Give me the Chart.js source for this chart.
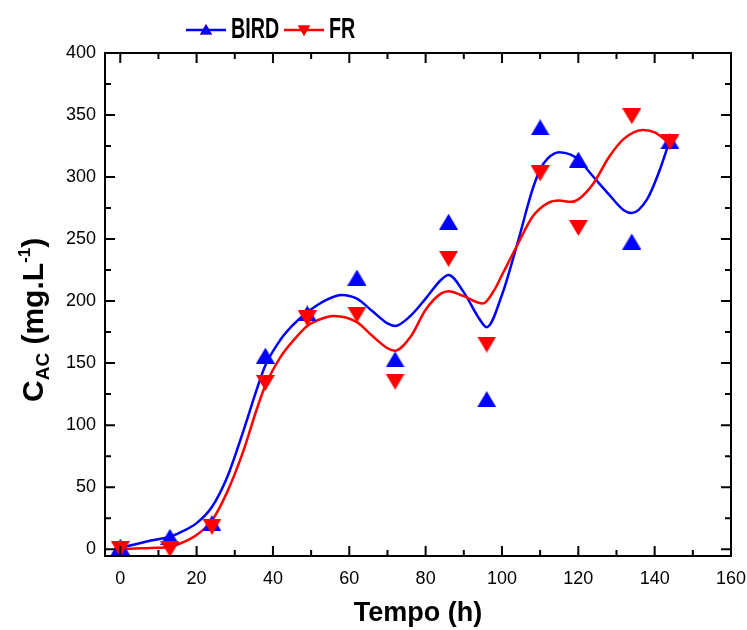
<!DOCTYPE html>
<html>
<head>
<meta charset="utf-8">
<script src="https://cdn.jsdelivr.net/npm/chart.js@4.4.1/dist/chart.umd.min.js"></script>
<style>
  html, body { margin: 0; padding: 0; background: #fff; }
  #grafico { display: block; }
</style>
</head>
<body>
<canvas id="grafico" width="747" height="630"></canvas>
<script>
// pontos experimentais
const tempo = [0, 13, 24, 38, 49, 62, 72, 86, 96, 110, 120, 134, 144];
const bird = [2, 10, 21, 156, 190, 219, 153, 264, 121, 340, 314, 248, 329];
const fr = [0, 0, 18, 134, 186, 189, 135, 234, 165, 303, 259, 349, 328];

// curvas ajustadas
const curvaBirdX = [0, 4, 8, 13, 16, 20, 24, 28, 32, 36, 38, 42, 45, 49, 54, 58, 62, 66, 70, 72, 76, 80, 84, 86, 90, 94, 96, 100, 104, 108, 110, 112, 115, 118, 120, 124, 128, 132, 134, 138, 141, 144];
const curvaBirdY = [1, 4, 7, 10, 14, 21, 34, 58, 93, 131, 148, 169, 180, 191, 201, 205, 202, 192, 182, 180, 188, 202, 217, 221, 207, 186, 179, 205, 246, 290, 306, 315, 320, 318, 314, 300, 286, 273, 271, 282, 303, 330];
const curvaFrX = [0, 4, 8, 13, 16, 20, 24, 28, 32, 36, 38, 42, 45, 49, 54, 56, 62, 66, 70, 72, 76, 80, 84, 86, 90, 95, 98, 100, 104, 108, 112, 115, 118, 120, 124, 128, 132, 137, 140, 144];
const curvaFrY = [0, 0.5, 1, 2, 5, 11.5, 23, 46, 77, 115, 132, 155, 167, 180, 187, 188, 183, 172, 162, 160, 171, 193, 206, 208, 204, 198, 209, 221, 245, 268, 279, 281, 280, 282, 295, 316, 331, 338, 336, 327];

const ticksX = [0, 20, 40, 60, 80, 100, 120, 140, 160];
const ticksY = [0, 50, 100, 150, 200, 250, 300, 350, 400];

const fonte = "Arial, 'Liberation Sans', sans-serif";

function pares(xs, ys) {
  return xs.map((v, i) => ({ x: v, y: ys[i] }));
}

// triangulo centrado na caixa (igual ao simbolo do Origin)
function triangulo(cor, w, h, paraBaixo) {
  const c = document.createElement('canvas');
  c.width = Math.ceil(w);
  c.height = Math.ceil(h);
  const g = c.getContext('2d');
  g.fillStyle = cor;
  g.beginPath();
  if (paraBaixo) {
    g.moveTo(0, 0); g.lineTo(w, 0); g.lineTo(w / 2, h);
  } else {
    g.moveTo(w / 2, 0); g.lineTo(w, h); g.lineTo(0, h);
  }
  g.closePath();
  g.fill();
  return c;
}

const marcaBird = triangulo('#0000ff', 19, 16, false);
const marcaFr = triangulo('#ff0000', 19, 16, true);

// moldura com ticks para dentro
const moldura = {
  id: 'moldura',
  afterDatasetsDraw(chart) {
    const { ctx, chartArea: a, scales } = chart;
    const x = scales.x, y = scales.y;
    ctx.save();
    ctx.strokeStyle = '#000';
    ctx.lineWidth = 2;
    ctx.beginPath();
    for (let i = 0; i < ticksX.length; i++) {
      const v = ticksX[i];
      const px = x.getPixelForValue(v);
      ctx.moveTo(px, a.bottom); ctx.lineTo(px, a.bottom - 10);
      ctx.moveTo(px, a.top); ctx.lineTo(px, a.top + 10);
      if (i < ticksX.length - 1) {
        const pm = x.getPixelForValue((v + ticksX[i + 1]) / 2);
        ctx.moveTo(pm, a.bottom); ctx.lineTo(pm, a.bottom - 6);
        ctx.moveTo(pm, a.top); ctx.lineTo(pm, a.top + 6);
      }
    }
    for (let i = 0; i < ticksY.length; i++) {
      const v = ticksY[i];
      const py = y.getPixelForValue(v);
      ctx.moveTo(a.left, py); ctx.lineTo(a.left + 10, py);
      ctx.moveTo(a.right, py); ctx.lineTo(a.right - 10, py);
      if (i < ticksY.length - 1) {
        const pm = y.getPixelForValue((v + ticksY[i + 1]) / 2);
        ctx.moveTo(a.left, pm); ctx.lineTo(a.left + 6, pm);
        ctx.moveTo(a.right, pm); ctx.lineTo(a.right - 6, pm);
      }
    }
    ctx.stroke();
    ctx.strokeRect(a.left, a.top, a.right - a.left, a.bottom - a.top);
    ctx.restore();
  }
};

// titulo do eixo y com subscrito e sobrescrito
const tituloY = {
  id: 'tituloY',
  afterDraw(chart) {
    const ctx = chart.ctx;
    ctx.save();
    ctx.translate(43, 402);
    ctx.rotate(-Math.PI / 2);
    ctx.fillStyle = '#000';
    ctx.textBaseline = 'alphabetic';
    ctx.textAlign = 'left';
    let px = 0;
    ctx.font = 'bold 30px ' + fonte;
    ctx.fillText('C', px, 0);
    px += ctx.measureText('C').width;
    ctx.font = 'bold 19px ' + fonte;
    ctx.fillText('AC', px, 6);
    px += ctx.measureText('AC').width;
    ctx.font = 'bold 30px ' + fonte;
    ctx.fillText(' (mg.L', px, 0);
    px += ctx.measureText(' (mg.L').width;
    ctx.font = 'bold 17px ' + fonte;
    ctx.fillText('-1', px, -13);
    px += ctx.measureText('-1').width;
    ctx.font = 'bold 30px ' + fonte;
    ctx.fillText(')', px, 0);
    ctx.restore();
  }
};

// legenda: linha + marcador + texto
const legenda = {
  id: 'legenda',
  afterDraw(chart) {
    const ctx = chart.ctx;
    const itens = [
      { texto: 'BIRD', cor: '#0000ff', x0: 186, rot: 0 },
      { texto: 'FR', cor: '#ff0000', x0: 284, rot: 180 }
    ];
    itens.forEach((it) => {
      ctx.save();
      ctx.strokeStyle = it.cor;
      ctx.lineWidth = 2.5;
      ctx.beginPath();
      ctx.moveTo(it.x0, 30); ctx.lineTo(it.x0 + 40, 30);
      ctx.stroke();
      Chart.helpers.drawPoint(ctx, {
        pointStyle: 'triangle', radius: 7, rotation: it.rot, borderWidth: 0
      }, it.x0 + 20, it.rot ? 29 : 31);
      ctx.fillStyle = it.cor;
      ctx.fill();
      ctx.translate(it.x0 + 45, 38);
      ctx.scale(0.68, 1);
      ctx.fillStyle = '#000';
      ctx.font = 'bold 29px ' + fonte;
      ctx.textBaseline = 'alphabetic';
      ctx.fillText(it.texto, 0, 0);
      ctx.restore();
    });
  }
};

new Chart(document.getElementById('grafico'), {
  type: 'scatter',
  data: {
    datasets: [
      {
        label: 'FR',
        data: pares(tempo, fr),
        pointStyle: marcaFr,
        pointRadius: 10,
        backgroundColor: '#ff0000',
        borderColor: '#ff0000',
        clip: false,
        order: 0
      },
      {
        label: 'BIRD',
        data: pares(tempo, bird),
        pointStyle: marcaBird,
        pointRadius: 10,
        backgroundColor: '#0000ff',
        borderColor: '#0000ff',
        clip: false,
        order: 1
      },
      {
        label: 'FR ajuste',
        data: pares(curvaFrX, curvaFrY),
        showLine: true,
        pointRadius: 0,
        borderColor: '#ff0000',
        borderWidth: 2.5,
        cubicInterpolationMode: 'monotone',
        order: 2
      },
      {
        label: 'BIRD ajuste',
        data: pares(curvaBirdX, curvaBirdY),
        showLine: true,
        pointRadius: 0,
        borderColor: '#0000ff',
        borderWidth: 2.5,
        cubicInterpolationMode: 'monotone',
        order: 3
      }
    ]
  },
  options: {
    responsive: false,
    animation: false,
    devicePixelRatio: 1,
    layout: { padding: { top: 53, right: 16, left: 0, bottom: 0 } },
    plugins: {
      legend: { display: false },
      tooltip: { enabled: false }
    },
    scales: {
      x: {
        type: 'linear',
        min: -4,
        max: 160,
        grid: { display: false, drawTicks: false },
        border: { display: false },
        afterBuildTicks: (s) => { s.ticks = ticksX.map((v) => ({ value: v })); },
        afterFit: (s) => { s.height = 74; s.paddingRight = 0; s.paddingLeft = 0; },
        ticks: {
          includeBounds: false,
          padding: 12,
          color: '#000',
          font: { family: fonte, size: 18 }
        },
        title: {
          display: true,
          text: 'Tempo (h)',
          color: '#000',
          font: { family: fonte, size: 27, weight: 'bold' },
          padding: { top: 0, bottom: 0 }
        }
      },
      y: {
        type: 'linear',
        min: -5.5,
        max: 400,
        grid: { display: false, drawTicks: false },
        border: { display: false },
        afterBuildTicks: (s) => { s.ticks = ticksY.map((v) => ({ value: v })); },
        afterFit: (s) => { s.width = 105; s.paddingTop = 0; s.paddingBottom = 0; },
        ticks: {
          includeBounds: false,
          padding: 9,
          color: '#000',
          font: { family: fonte, size: 18 }
        }
      }
    }
  },
  plugins: [moldura, tituloY, legenda]
});
</script>
</body>
</html>
